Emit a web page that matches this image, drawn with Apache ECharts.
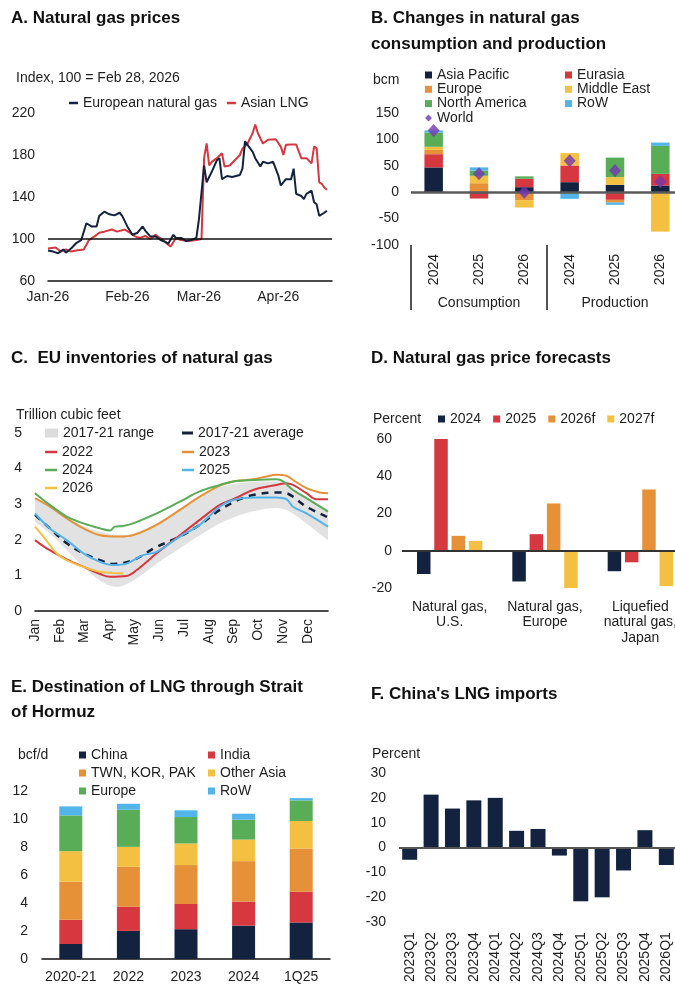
<!DOCTYPE html>
<html><head><meta charset="utf-8">
<script src="https://cdn.jsdelivr.net/npm/echarts@6/dist/echarts.min.js"></script>
<style>
html,body{margin:0;padding:0;width:675px;height:985px;overflow:hidden;background:#fff;}
.p{position:absolute;}
</style></head><body>
<div id="A" class="p" style="left:0;top:0;width:340px;height:320px"></div>
<div id="B" class="p" style="left:340px;top:0;width:343px;height:320px"></div>
<div id="C" class="p" style="left:0;top:340px;width:340px;height:320px"></div>
<div id="D" class="p" style="left:340px;top:340px;width:348px;height:320px"></div>
<div id="E" class="p" style="left:0;top:670px;width:340px;height:315px"></div>
<div id="F" class="p" style="left:340px;top:670px;width:337px;height:315px"></div>
<script>
// ---------- Panel A data ----------
const monthTickDays = [0, 31, 59, 90];
const monthTickLabels = ['Jan-26', 'Feb-26', 'Mar-26', 'Apr-26'];
const europeanGas = [[0,89],[2,88],[4,86.5],[6,90],[7,87],[9,91],[11,96],[13,99],[15,115],[17,112],[19,112],[20,122],[22,126],[24,123.5],[26,122.5],[28,125],[29,122],[31,112],[33,104],[35,106],[37,112],[38,108],[40,102.5],[42,102.5],[44,99],[46,97],[47,95.5],[49,104],[50,101],[52,101],[54,98],[56,99],[58,101],[59,119],[61,170],[62,154],[64,164],[66,175],[67,177],[68,157],[70,160],[72,159],[75,161],[76,167],[77,193],[80,183],[81,177],[83,169],[84,173.5],[86,172],[88,173.5],[90,160.6],[91,151],[93,157],[95,157],[96,167],[97,143],[99,141],[100,138],[101,143],[103,146],[104,135],[105,133],[106,122],[108,125],[109,127]];
const asianLNG = [[0,91],[3,92],[5,88],[7,90],[9,88],[11,89],[14,90],[16,99],[19,104],[20,106],[22,107],[25,109],[27,107],[30,109],[32,106],[34,102.5],[36,101],[38,103],[40,100],[42,104],[45,99],[47,94.5],[48,93],[50,101],[52,99],[55,98],[58,99],[60,100],[61,177],[62,191],[63,170],[64,173.5],[66,177],[68,181.6],[69,169],[71,170],[73,175],[75,180],[76,186],[78,191],[80,201],[81,209],[82,201],[84,191],[86,194.5],[89,195],[91,188],[92,180],[93,189.7],[95,190],[97,190],[99,177],[101,177],[103,172],[104,188],[105,186.5],[106,154],[107,152.6],[108,149],[109,147]];

// ---------- Panel B data ----------
const bYears = ['2024', '2025', '2026', '2024', '2025', '2026'];
const bGroups = ['Consumption', 'Production'];
const bAsiaPacific = [47, 0, 9.5, 19, 14, 12.7];
const bEurasia = [25, -12, 16, 31.6, -14.5, 22];
const bEurope = [8, 17, -15, 0, -5, 0];
const bMiddleEast = [6, 14, -14, 23.4, 14.5, -74.7];
const bNorthAmerica = [27, 10, 4.5, -3, 37, 53];
const bRoW = [4, 6, 0, -9.5, -4.4, 6.3];
const bWorld = [117, 35, 0, 59.5, 41, 20];

// ---------- Panel C data (x = month index, Jan = 0) ----------
const cMonthLabels = ['Jan','Feb','Mar','Apr','May','Jun','Jul','Aug','Sep','Oct','Nov','Dec'];
const cMonthTicks = [0,1,2,3,4,5,6,7,8,9,10,11];
const cRangeX = [0,0.6,1.28,1.95,2.62,3.29,3.96,4.9,5.84,6.64,7.45,8.26,9.06,9.73,10.27,10.94,11.81];
const cRangeLow = [2.5,2.18,1.71,1.24,0.86,0.68,0.86,1.33,1.76,2.13,2.46,2.7,2.84,2.89,2.79,2.46,1.99];
const cRangeHigh = [3.17,2.9,2.6,2.38,2.23,2.13,2.18,2.46,2.84,3.21,3.48,3.59,3.64,3.64,3.52,3.2,2.85];
const cAverage = [[0,2.7],[0.6,2.32],[1.28,1.9],[1.95,1.62],[2.62,1.43],[3.15,1.32],[3.96,1.43],[4.9,1.8],[5.84,2.09],[6.64,2.42],[7.45,2.84],[8.26,3.14],[8.79,3.26],[9.73,3.33],[10.13,3.31],[10.4,3.21],[10.94,2.93],[11.81,2.63]];
const c2022 = [[0,1.99],[0.47,1.76],[1.28,1.45],[2.08,1.2],[2.62,1.04],[3.02,0.96],[3.69,0.98],[4.1,1.15],[4.9,1.62],[5.84,2.13],[6.64,2.56],[7.45,2.98],[7.99,3.14],[8.79,3.4],[9.73,3.54],[10.13,3.59],[10.4,3.54],[10.94,3.31],[11.34,3.14],[11.81,3.14]];
const c2023 = [[0,3.17],[0.6,2.93],[1.28,2.6],[1.95,2.32],[2.62,2.13],[3.42,2.09],[3.96,2.13],[4.9,2.42],[5.84,2.84],[6.64,3.21],[7.45,3.52],[7.99,3.64],[8.79,3.7],[9.33,3.78],[9.73,3.83],[10.13,3.8],[10.4,3.68],[10.94,3.45],[11.48,3.33],[11.81,3.31]];
const c2024 = [[0,3.31],[0.6,2.98],[1.28,2.65],[1.95,2.46],[2.62,2.32],[3.02,2.26],[3.22,2.37],[3.56,2.39],[3.96,2.46],[4.9,2.74],[5.84,3.07],[6.64,3.36],[7.45,3.54],[7.99,3.64],[8.79,3.68],[9.73,3.7],[10.0,3.64],[10.4,3.4],[10.94,3.17],[11.81,2.79]];
const c2025 = [[0,2.74],[0.6,2.32],[1.28,1.99],[1.95,1.62],[2.62,1.38],[3.15,1.29],[3.69,1.33],[4.36,1.57],[4.9,1.66],[5.84,2.09],[6.64,2.42],[7.45,2.93],[7.99,3.12],[8.79,3.19],[9.73,3.19],[10.13,3.14],[10.4,2.93],[10.94,2.74],[11.81,2.37]];
const c2026 = [[0,2.37],[0.34,2.09],[0.87,1.62],[1.28,1.43],[1.95,1.24],[2.62,1.1],[3.15,1.07],[3.56,1.05]];

// ---------- Panel D data ----------
const dCategories = ['Natural gas,\nU.S.', 'Natural gas,\nEurope', 'Liquefied\nnatural gas,\nJapan'];
const d2024 = [-12.5, -16.5, -11];
const d2025 = [61.4, 8.9, -6.2];
const d2026f = [8, 25.4, 32.9];
const d2027f = [5.3, -20, -19];

// ---------- Panel E data ----------
const eCategories = ['2020-21', '2022', '2023', '2024', '1Q25'];
const eChina = [1.07, 2.01, 2.13, 2.39, 2.61];
const eIndia = [1.73, 1.73, 1.8, 1.71, 2.2];
const eTwnKorPak = [2.72, 2.85, 2.78, 2.89, 3.08];
const eOtherAsia = [2.18, 1.42, 1.54, 1.54, 1.97];
const eEurope = [2.56, 2.65, 1.89, 1.42, 1.47];
const eRoW = [0.64, 0.43, 0.48, 0.43, 0.16];

// ---------- Panel F data ----------
const fQuarters = ['2023Q1','2023Q2','2023Q3','2023Q4','2024Q1','2024Q2','2024Q3','2024Q4','2025Q1','2025Q2','2025Q3','2025Q4','2026Q1'];
const fValues = [-4.9, 21.3, 15.7, 19.0, 20.0, 6.75, 7.5, -3.2, -21.6, -20.0, -9.2, 7.0, -7.0];

// ---------- styles ----------
const FONT = '"Liberation Sans", Arial, sans-serif';
const TXT = '#1e1e1e';
const NAVY = '#13233f';
const RED = '#d7373f';
const ORANGE = '#e69138';
const YELLOW = '#f4c042';
const GREEN = '#58ad56';
const LBLUE = '#52b4e8';
const PURPLE = '#7337b0';
const GRAY = '#e2e2e2';
const FS = 14;

function titleOf(text, left, top, lh) {
  return {text, left, top, padding:0, textStyle:{fontFamily:FONT, fontSize:17, fontWeight:'bold', color:'#111', lineHeight:lh||26}};
}
function noteOf(text, left, top) {
  return {text, left, top, padding:0, textStyle:{fontFamily:FONT, fontSize:FS, fontWeight:'normal', color:TXT, lineHeight:14}};
}
function yAx(min, max, interval, margin) {
  return {type:'value', min, max, interval, axisLine:{show:false}, axisTick:{show:false}, splitLine:{show:false},
    axisLabel:{fontFamily:FONT, fontSize:FS, color:TXT, margin}};
}
function zeroLine(color, width) {
  return {silent:true, symbol:'none', label:{show:false}, emphasis:{disabled:true},
    lineStyle:{color, width, type:'solid'}, data:[{yAxis:0}]};
}
function mk(id, opt) {
  const c = echarts.init(document.getElementById(id), null, {renderer:'canvas'});
  c.setOption(Object.assign({animation:false, textStyle:{fontFamily:FONT, color:TXT}}, opt));
}
const legTxt = {fontFamily:FONT, fontSize:FS, color:TXT, lineHeight:14};

// ---------- Panel A ----------
mk('A', {
  title:[titleOf('A. Natural gas prices', 11, 5), noteOf('Index, 100 = Feb 28, 2026', 16, 71)],
  legend:{left:69, top:96, padding:0, itemWidth:9, itemHeight:2.5, itemGap:10, textStyle:legTxt,
    data:[{name:'European natural gas', icon:'rect'}, {name:'Asian LNG', icon:'rect'}]},
  grid:{left:48, right:8, top:113, bottom:39},
  xAxis:{type:'value', min:0, max:111, axisLine:{show:true, onZero:false, lineStyle:{color:'#111', width:1.5}},
    axisTick:{show:false}, splitLine:{show:false},
    axisLabel:{customValues:monthTickDays, formatter:v => { const i = monthTickDays.indexOf(v); return i >= 0 ? monthTickLabels[i] : ''; },
      fontFamily:FONT, fontSize:FS, color:TXT, margin:9}},
  yAxis:yAx(60, 220, 40, 13),
  series:[
    {name:'Asian LNG', type:'line', data:asianLNG, symbol:'none', color:RED, lineStyle:{width:2, color:RED}, z:2,
      markLine:{silent:true, symbol:'none', label:{show:false}, lineStyle:{color:'#111', width:1.5, type:'solid'}, data:[{yAxis:100}]}},
    {name:'European natural gas', type:'line', data:europeanGas, symbol:'none', color:NAVY, lineStyle:{width:2, color:NAVY}, z:3}
  ]
});

// ---------- Panel B ----------
function bBar(name, data, color) {
  return {name, type:'bar', stack:'b', data, color, itemStyle:{color}, barWidth:18.5, xAxisIndex:0};
}
const bSeries = [
  bBar('Asia Pacific', bAsiaPacific, NAVY),
  bBar('Eurasia', bEurasia, RED),
  bBar('Europe', bEurope, ORANGE),
  bBar('Middle East', bMiddleEast, YELLOW),
  bBar('North America', bNorthAmerica, GREEN),
  bBar('RoW', bRoW, LBLUE),
  {name:'World', type:'scatter', data:bWorld, symbol:'diamond', symbolSize:[12,13], color:PURPLE, itemStyle:{color:PURPLE}, z:5}
];
bSeries[0].markLine = zeroLine('#5a5a5a', 2.5);
mk('B', {
  title:[titleOf('B. Changes in natural gas\nconsumption and production', 31, 5), noteOf('bcm', 33, 73)],
  legend:[
    {orient:'vertical', left:85, top:68, padding:0, itemWidth:7, itemHeight:7, itemGap:0.3, textStyle:legTxt,
      data:[{name:'Asia Pacific', icon:'rect'}, {name:'Europe', icon:'rect'}, {name:'North America', icon:'rect'}, {name:'World', icon:'diamond'}]},
    {orient:'vertical', left:225, top:68, padding:0, itemWidth:7, itemHeight:7, itemGap:0.3, textStyle:legTxt,
      data:[{name:'Eurasia', icon:'rect'}, {name:'Middle East', icon:'rect'}, {name:'RoW', icon:'rect'}]}
  ],
  grid:{left:71, right:0, top:113, bottom:75},
  xAxis:[
    {type:'category', data:bYears, position:'bottom', axisLine:{show:false, onZero:false}, axisTick:{show:false},
      axisLabel:{rotate:90, interval:0, fontFamily:FONT, fontSize:FS, color:TXT, margin:9}},
    {type:'category', data:bGroups, position:'bottom', axisLine:{show:false, onZero:false},
      axisTick:{show:true, interval:0, length:65, lineStyle:{color:'#555', width:2}},
      axisLabel:{interval:0, fontFamily:FONT, fontSize:FS, color:TXT, margin:51}}
  ],
  yAxis:yAx(-100, 150, 50, 12),
  series:bSeries
});

// ---------- Panel C ----------
function cLine(name, data, color, extra) {
  return Object.assign({name, type:'line', data, symbol:'none', smooth:0.35, color, lineStyle:{width:2, color}, z:3}, extra||{});
}
const cLineLeg = {padding:0, itemWidth:12, itemHeight:2.5, itemGap:4, textStyle:legTxt, orient:'vertical'};
mk('C', {
  title:[titleOf('C.  EU inventories of natural gas', 11, 5), noteOf('Trillion cubic feet', 16, 68)],
  legend:[
    {orient:'vertical', left:45, top:86, padding:0, itemWidth:13, itemHeight:9, textStyle:legTxt,
      data:[{name:'2017-21 range', icon:'rect', itemStyle:{color:'#dcdcdc'}}]},
    {orient:'vertical', left:182, top:86, padding:0, itemWidth:11, itemHeight:3, textStyle:legTxt,
      data:[{name:'2017-21 average', icon:'rect', itemStyle:{color:NAVY}}]},
    Object.assign({left:45, top:105, data:[{name:'2022', icon:'rect'}, {name:'2024', icon:'rect'}, {name:'2026', icon:'rect'}]}, cLineLeg),
    Object.assign({left:182, top:105, data:[{name:'2023', icon:'rect'}, {name:'2025', icon:'rect'}]}, cLineLeg)
  ],
  grid:{left:35, right:12, top:93, bottom:49},
  xAxis:{type:'value', min:0, max:11.81, z:10, axisLine:{show:true, onZero:false, lineStyle:{color:'#111', width:1.5}},
    axisTick:{show:false}, splitLine:{show:false},
    axisLabel:{customValues:cMonthTicks, rotate:90, formatter:v => cMonthLabels[Math.round(v)] || '',
      fontFamily:FONT, fontSize:FS, color:TXT, margin:8}},
  yAxis:yAx(0, 5, 1, 13),
  series:[
    // range band: grey fill up to the 2017-21 maximum, white fill up to the minimum
    {name:'2017-21 range', type:'line', data:cRangeX.map((x,i)=>[x, cRangeHigh[i]]), symbol:'none', smooth:0.35,
      color:GRAY, lineStyle:{width:0, opacity:0}, areaStyle:{color:GRAY, opacity:1, origin:'start'}, silent:true, z:1},
    {name:'_rangeLow', type:'line', data:cRangeX.map((x,i)=>[x, cRangeLow[i]]), symbol:'none', smooth:0.35,
      color:'#fff', lineStyle:{width:0, opacity:0}, areaStyle:{color:'#fff', opacity:1, origin:'start'}, silent:true, z:1},
    cLine('2017-21 average', cAverage, NAVY, {lineStyle:{width:2.5, color:NAVY, type:[7,6]}}),
    cLine('2022', c2022, RED),
    cLine('2023', c2023, ORANGE),
    cLine('2024', c2024, GREEN),
    cLine('2025', c2025, LBLUE),
    cLine('2026', c2026, YELLOW)
  ]
});

// ---------- Panel D ----------
function dBar(name, data, color) {
  return {name, type:'bar', data, color, itemStyle:{color}, barWidth:13.5, barGap:'28%'};
}
const dSeries = [dBar('2024', d2024, NAVY), dBar('2025', d2025, RED), dBar('2026f', d2026f, ORANGE), dBar('2027f', d2027f, YELLOW)];
dSeries[0].markLine = zeroLine('#333', 2);
mk('D', {
  title:[titleOf('D. Natural gas price forecasts', 31, 5), noteOf('Percent', 33, 72)],
  legend:{left:98, top:72, padding:0, itemWidth:7, itemHeight:7, itemGap:12, textStyle:legTxt,
    data:['2024','2025','2026f','2027f'].map(n=>({name:n, icon:'rect'}))},
  grid:{left:62, right:0, top:99, bottom:72},
  xAxis:{type:'category', data:dCategories, axisLine:{show:false, onZero:false}, axisTick:{show:false},
    axisLabel:{interval:0, fontFamily:FONT, fontSize:FS, color:TXT, lineHeight:15.5, margin:11}},
  yAxis:yAx(-20, 60, 20, 10),
  series:dSeries
});

// ---------- Panel E ----------
function eBar(name, data, color) {
  return {name, type:'bar', stack:'e', data, color, itemStyle:{color}, barWidth:23};
}
mk('E', {
  title:[titleOf('E. Destination of LNG through Strait\nof Hormuz', 11, 5, 25), noteOf('bcf/d', 18, 78)],
  legend:[
    {orient:'vertical', left:79, top:78, padding:0, itemWidth:7, itemHeight:7, itemGap:4, textStyle:legTxt,
      data:['China','TWN, KOR, PAK','Europe'].map(n=>({name:n, icon:'rect'}))},
    {orient:'vertical', left:208, top:78, padding:0, itemWidth:7, itemHeight:7, itemGap:4, textStyle:legTxt,
      data:['India','Other Asia','RoW'].map(n=>({name:n, icon:'rect'}))}
  ],
  grid:{left:42, right:10, top:121, bottom:26},
  xAxis:{type:'category', data:eCategories, axisLine:{show:true, lineStyle:{color:'#111', width:1.5}}, axisTick:{show:false},
    axisLabel:{interval:0, fontFamily:FONT, fontSize:FS, color:TXT, margin:11}},
  yAxis:yAx(0, 12, 2, 14),
  series:[
    eBar('China', eChina, NAVY), eBar('India', eIndia, RED), eBar('TWN, KOR, PAK', eTwnKorPak, ORANGE),
    eBar('Other Asia', eOtherAsia, YELLOW), eBar('Europe', eEurope, GREEN), eBar('RoW', eRoW, LBLUE)
  ]
});

// ---------- Panel F ----------
mk('F', {
  title:[titleOf("F. China's LNG imports", 31, 11), noteOf('Percent', 32, 77)],
  grid:{left:59, right:0, top:103, bottom:60},
  xAxis:{type:'category', data:fQuarters, axisLine:{show:false, onZero:false}, axisTick:{show:false},
    axisLabel:{interval:0, rotate:90, fontFamily:FONT, fontSize:FS, color:TXT, margin:10}},
  yAxis:yAx(-30, 30, 10, 13),
  series:[{name:'China LNG imports', type:'bar', data:fValues, color:NAVY, itemStyle:{color:NAVY}, barWidth:15,
    markLine:zeroLine('#555', 2)}]
});
</script>
</body></html>
